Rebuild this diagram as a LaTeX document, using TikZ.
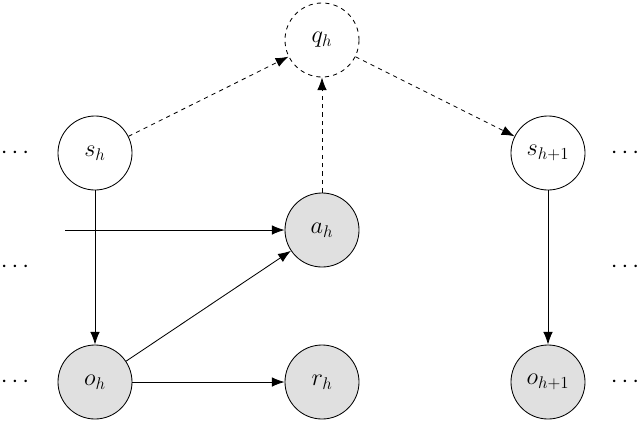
\documentclass[tikz,border=0pt]{standalone}
\usetikzlibrary{arrows.meta}
\begin{document}
\begin{tikzpicture}[x=0.025cm,y=-0.025cm,
  var/.style={circle,draw,semithick,minimum size=1.85cm,inner sep=0pt,font=\LARGE},
  obs/.style={var,fill=black!12},
  arr/.style={-{Latex[length=3.2mm,width=2.4mm]},semithick},
  darr/.style={arr,dashed}]
\useasboundingbox (0,0) rectangle (640,423);
\node[var,dashed] (q) at (322,40) {$q_h$};
\node[var] (s) at (95,153) {$s_h$};
\node[var] (s1) at (548,153) {$s_{h+1}$};
\node[obs] (a) at (322,230) {$a_h$};
\node[obs] (o) at (95,382) {$o_h$};
\node[obs] (r) at (322,382) {$r_h$};
\node[obs] (o1) at (548,382) {$o_{h+1}$};
\foreach \y/\n in {153/1,267/2,382/3}{
  \node[font=\LARGE] (l\n) at (15,\y) {$\cdots$};
  \node[font=\LARGE] (r\n) at (625,\y) {$\cdots$};
}
\coordinate (in) at (65,230);
\draw[darr] (s) -- (q);
\draw[darr] (q) -- (s1);
\draw[darr] (a) -- (q);
\draw[arr] (in) -- (a);
\draw[arr] (s) -- (o);
\draw[arr] (o) -- (a);
\draw[arr] (o) -- (r);
\draw[arr] (s1) -- (o1);
\end{tikzpicture}
\end{document}
